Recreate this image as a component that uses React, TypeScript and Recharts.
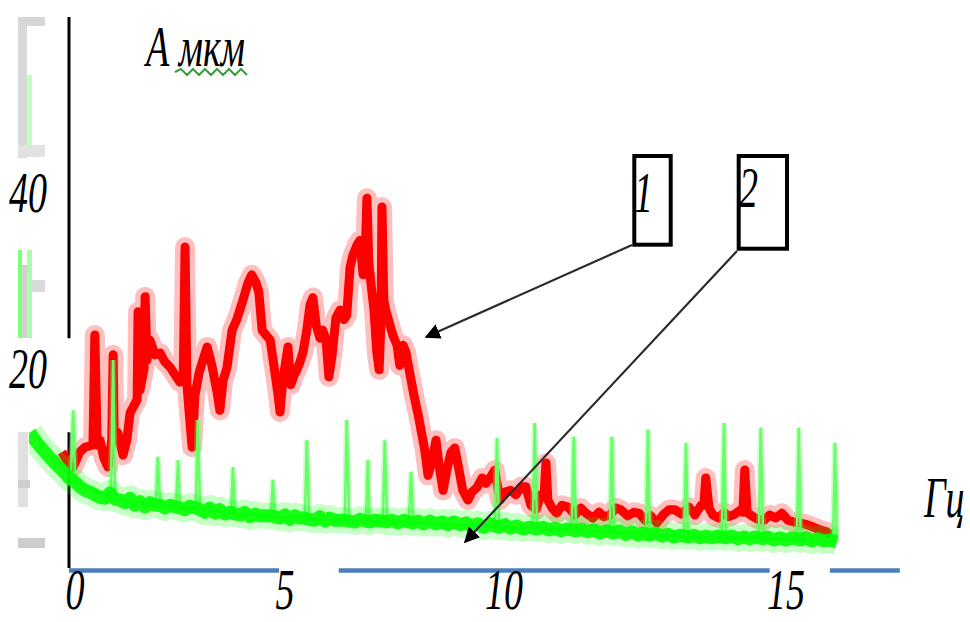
import React from "react";
import { LineChart, Line, XAxis, YAxis, ReferenceLine } from "recharts";

// amplitude (мкм) vs frequency (Гц)
const curve1: [number, number][] = [
  [-0.15, 10.45], [-0.02, 9.3], [0.09, 8.75], [0.23, 10.45], [0.34, 11.0], [0.51, 11.25],
  [0.55, 23.75], [0.6, 11.25], [0.66, 11.8], [0.74, 9.8], [0.83, 8.75], [0.91, 11.8],
  [0.94, 21.5], [0.96, 13.0], [1.04, 12.6], [1.15, 10.1], [1.23, 11.8], [1.3, 14.9],
  [1.45, 16.4], [1.47, 26.4], [1.51, 17.5], [1.6, 20.0], [1.62, 28.1], [1.66, 20.9],
  [1.72, 23.2], [1.83, 21.5], [1.94, 21.7], [2.04, 20.7], [2.15, 20.1], [2.26, 19.2],
  [2.36, 18.4], [2.43, 18.6], [2.47, 33.75], [2.51, 18.1], [2.57, 14.1], [2.62, 11.0],
  [2.68, 16.9], [2.77, 19.5], [2.85, 20.9], [2.94, 22.4], [3.04, 20.3], [3.15, 17.3],
  [3.21, 15.2], [3.28, 18.6], [3.36, 20.0], [3.47, 24.3], [3.57, 25.5], [3.7, 27.7],
  [3.81, 29.7], [3.89, 30.6], [3.98, 29.7], [4.04, 28.6], [4.11, 24.3], [4.19, 23.75],
  [4.28, 23.2], [4.36, 20.3], [4.45, 16.9], [4.49, 15.0], [4.55, 18.6], [4.66, 22.4],
  [4.72, 18.1], [4.79, 19.2], [4.85, 19.8], [4.91, 20.6], [4.98, 21.8], [5.06, 24.3],
  [5.13, 27.2], [5.19, 28.0], [5.26, 24.9], [5.34, 23.4], [5.4, 24.3], [5.47, 23.2],
  [5.53, 19.0], [5.6, 21.5], [5.68, 25.7], [5.77, 26.6], [5.85, 25.5], [5.91, 26.0],
  [5.98, 31.4], [6.04, 32.8], [6.13, 34.0], [6.19, 34.5], [6.26, 30.6], [6.3, 32.3],
  [6.34, 39.3], [6.38, 32.0], [6.43, 29.4], [6.49, 26.6], [6.55, 21.8], [6.6, 19.8],
  [6.64, 25.5], [6.66, 38.3], [6.7, 27.7], [6.74, 26.6], [6.83, 24.9], [6.89, 23.75],
  [6.98, 22.6], [7.04, 20.3], [7.11, 22.6], [7.17, 21.8], [7.26, 19.2], [7.34, 16.9],
  [7.43, 14.7], [7.51, 12.4], [7.57, 10.7], [7.64, 7.8], [7.72, 9.3], [7.81, 11.8],
  [7.89, 8.4], [7.96, 6.1], [8.04, 8.4], [8.13, 10.45], [8.21, 10.9], [8.3, 8.4],
  [8.38, 6.1], [8.49, 5.0], [8.57, 5.9], [8.68, 6.4], [8.79, 7.5], [8.87, 6.9],
  [8.98, 7.7], [9.06, 8.4], [9.17, 5.0], [9.28, 5.9], [9.4, 6.1], [9.51, 5.6],
  [9.62, 6.5], [9.72, 6.5], [9.83, 4.4], [9.94, 3.9], [10.04, 5.6], [10.11, 5.6],
  [10.15, 9.2], [10.19, 5.0], [10.28, 4.1], [10.38, 3.5], [10.49, 4.4], [10.62, 4.2],
  [10.77, 3.3], [10.89, 4.1], [11.0, 3.5], [11.15, 2.95], [11.28, 3.6], [11.38, 3.1],
  [11.51, 3.3], [11.64, 4.1], [11.74, 3.9], [11.89, 3.2], [12.02, 3.6], [12.13, 3.5],
  [12.26, 2.7], [12.38, 3.2], [12.51, 2.4], [12.64, 3.3], [12.77, 3.9], [12.89, 3.9],
  [13.04, 3.4], [13.19, 4.2], [13.32, 3.3], [13.45, 4.4], [13.51, 4.4], [13.55, 7.5],
  [13.62, 4.1], [13.7, 3.3], [13.83, 2.95], [13.94, 3.6], [14.04, 3.1], [14.17, 3.4],
  [14.3, 3.9], [14.34, 3.6], [14.38, 8.4], [14.43, 3.6], [14.53, 3.2], [14.66, 2.8],
  [14.79, 2.7], [14.91, 3.3], [15.04, 2.95], [15.17, 3.5], [15.3, 2.7], [15.43, 2.5],
  [15.55, 2.4], [15.7, 2.2], [15.85, 1.9], [15.98, 1.6], [16.11, 1.4], [16.23, 1.0],
];

// curve 2: the noisy floor
const curve2Band: [number, number][] = [
  [-0.83, 12.7], [-0.72, 11.8], [-0.62, 11.1], [-0.51, 10.45], [-0.4, 9.8], [-0.3, 9.2],
  [-0.19, 8.6], [-0.09, 8.1], [0, 7.5], [0.13, 7.05], [0.23, 6.5], [0.34, 6.1],
  [0.45, 5.9], [0.55, 5.6], [0.66, 5.3], [0.77, 5.2], [0.87, 5.8], [0.98, 5.1],
  [1.09, 5.0], [1.19, 4.7], [1.3, 5.2], [1.4, 4.4], [1.51, 4.8], [1.62, 4.2],
  [1.72, 4.7], [1.85, 4.4], [1.94, 4.4], [2.04, 4.1], [2.15, 4.4], [2.28, 4.2],
  [2.36, 4.1], [2.47, 3.9], [2.57, 4.3], [2.7, 4.1], [2.79, 3.9], [2.89, 3.6],
  [3.0, 4.1], [3.11, 3.5], [3.21, 3.9], [3.32, 3.4], [3.45, 3.6], [3.53, 3.4],
  [3.64, 3.3], [3.74, 3.6], [3.85, 3.1], [3.96, 3.4], [4.06, 3.2], [4.3, 3.2],
  [4.38, 3.1], [4.49, 2.95], [4.6, 3.3], [4.7, 2.8], [4.81, 3.2], [4.91, 2.95],
  [5.02, 2.95], [5.11, 2.8], [5.23, 2.7], [5.34, 3.1], [5.45, 2.6], [5.55, 2.95],
  [5.66, 2.7], [5.87, 2.7], [5.96, 2.6], [6.09, 2.5], [6.19, 2.8], [6.32, 2.6],
  [6.4, 2.5], [6.51, 2.7], [6.68, 2.6], [6.77, 2.5], [6.87, 2.7], [7.0, 2.4],
  [7.13, 2.7], [7.23, 2.5], [7.32, 2.4], [7.43, 2.6], [7.55, 2.3], [7.68, 2.6],
  [7.81, 2.3], [7.94, 2.5], [8.06, 2.2], [8.19, 2.5], [8.32, 2.2], [8.45, 2.4],
  [8.57, 2.05], [8.7, 2.3], [8.83, 1.9], [8.96, 2.3], [9.06, 2.05], [9.15, 1.9],
  [9.28, 2.2], [9.4, 1.8], [9.53, 2.05], [9.66, 1.7], [9.79, 1.9], [9.87, 1.8],
  [9.96, 1.7], [10.09, 1.9], [10.21, 1.6], [10.34, 1.8], [10.47, 1.5], [10.6, 1.7],
  [10.7, 1.6], [10.79, 1.5], [10.91, 1.7], [11.04, 1.4], [11.17, 1.6], [11.3, 1.25],
  [11.43, 1.5], [11.51, 1.4], [11.6, 1.25], [11.72, 1.5], [11.85, 1.1], [11.98, 1.4],
  [12.11, 1.0], [12.21, 1.25], [12.28, 1.1], [12.36, 1.0], [12.49, 1.25], [12.62, 0.9],
  [12.74, 1.1], [12.87, 0.8], [13.0, 1.0], [13.09, 0.9], [13.17, 0.8], [13.3, 1.0],
  [13.43, 0.7], [13.55, 0.9], [13.68, 0.7], [13.81, 0.9], [13.89, 0.8], [13.98, 0.7],
  [14.11, 0.9], [14.23, 0.6], [14.36, 0.8], [14.49, 0.6], [14.6, 0.8], [14.68, 0.7],
  [14.77, 0.6], [14.87, 0.8], [15.0, 0.45], [15.13, 0.7], [15.26, 0.45], [15.38, 0.7],
  [15.49, 0.6], [15.57, 0.45], [15.68, 0.7], [15.81, 0.35], [15.94, 0.6], [16.06, 0.35],
  [16.19, 0.45], [16.26, 0.35], [16.34, 0.25],
];

// narrow peaks sticking out of curve 2: [base before, top, base after]
const curve2Peaks: [number, number][] = [
  [0.04, 7.5], [0.09, 15.2], [0.13, 7.05],
  [0.89, 5.3], [0.94, 20.9], [0.98, 5.1],
  [1.85, 4.4], [1.89, 9.9], [1.94, 4.4],
  [2.28, 4.2], [2.32, 9.55], [2.36, 4.1],
  [2.7, 4.1], [2.74, 14.1], [2.79, 3.9],
  [3.45, 3.6], [3.49, 8.75], [3.53, 3.4],
  [4.3, 3.2], [4.34, 7.3], [4.38, 3.1],
  [5.02, 2.95], [5.06, 11.8], [5.11, 2.8],
  [5.87, 2.7], [5.91, 14.1], [5.96, 2.6],
  [6.32, 2.6], [6.36, 9.55], [6.4, 2.5],
  [6.68, 2.6], [6.72, 11.8], [6.77, 2.5],
  [7.23, 2.5], [7.28, 8.2], [7.32, 2.4],
  [9.06, 2.05], [9.11, 12.05], [9.15, 1.9],
  [9.87, 1.8], [9.91, 13.75], [9.96, 1.7],
  [10.7, 1.6], [10.74, 12.2], [10.79, 1.5],
  [11.51, 1.4], [11.55, 12.2], [11.6, 1.25],
  [12.28, 1.1], [12.32, 13.0], [12.36, 1.0],
  [13.09, 0.9], [13.13, 11.5], [13.17, 0.8],
  [13.89, 0.8], [13.94, 13.75], [13.98, 0.7],
  [14.68, 0.7], [14.72, 13.2], [14.77, 0.6],
  [15.49, 0.6], [15.53, 13.2], [15.57, 0.45],
  [16.26, 0.35], [16.3, 11.5], [16.34, 0.25],
];

const xTicks = [0, 5, 10, 15];
const yTicks = [20, 40];
// the printed x labels sit a little off the even spacing
const xLabelShift: Record<number, number> = { 0: 6, 5: -19, 10: -35, 15: 12 };

const toRows = (pts: [number, number][]) => pts.map(([f, a]) => ({ f, a }));
const red = toRows(curve1);
const greenBand = toRows(curve2Band);
const greenPeaks = toRows(curve2Peaks);

const SERIF = "'Liberation Serif', 'Times New Roman', serif";

function ItalicText({ x, y, children, anchor = "start" }: any) {
  return (
    <text
      transform={`translate(${x} ${y}) scale(1 1.5)`}
      fontFamily={SERIF}
      fontStyle="italic"
      fontSize={38}
      fill="#000"
      textAnchor={anchor}
    >
      {children}
    </text>
  );
}

function XTick(props: any) {
  const { x, payload } = props;
  const v = payload.value;
  return (
    <ItalicText x={x + (xLabelShift[v] ?? 0)} y={609} anchor="middle">
      {v}
    </ItalicText>
  );
}

function YTick(props: any) {
  const { y, payload } = props;
  return (
    <ItalicText x={28} y={y + 20} anchor="middle">
      {payload.value}
    </ItalicText>
  );
}

function squiggle(x0: number, x1: number, y: number) {
  let d = `M${x0},${y}`;
  let up = true;
  for (let x = x0 + 6; x <= x1; x += 6) {
    d += ` L${x},${up ? y - 3 : y + 3}`;
    up = !up;
  }
  return d;
}

function Overlay() {
  return (
    <svg
      width={970}
      height={622}
      style={{ position: "absolute", left: 0, top: 0, pointerEvents: "none" }}
    >
      <defs>
        <marker id="arr" viewBox="0 0 10 10" refX="9" refY="5" markerWidth="7" markerHeight="7" orient="auto">
          <path d="M0,0 L10,5 L0,10 z" fill="#000" />
        </marker>
      </defs>

      {/* scraps of a neighbouring frame on the left edge */}
      <rect x={18} y={17} width={27} height={9} fill="#d6d6d6" />
      <rect x={18} y={26} width={9} height={132} fill="#cfcfcf" opacity={0.8} />
      <rect x={27} y={75} width={5} height={72} fill="#bfffbf" />
      <rect x={18} y={145} width={27} height={12} fill="#e2e2e2" />
      <rect x={18} y={250} width={4} height={88} fill="#7fff7f" />
      <rect x={22} y={265} width={5} height={73} fill="#bdbdbd" opacity={0.7} />
      <rect x={27} y={250} width={5} height={88} fill="#a8ffa8" />
      <rect x={32} y={280} width={13} height={12} fill="#dadada" />
      <rect x={18} y={432} width={10} height={75} fill="#e0e0e0" />
      <rect x={18} y={480} width={12} height={8} fill="#cfcfcf" />
      <rect x={18} y={538} width={27} height={10} fill="#cdcdcd" />

      <ItalicText x={146} y={66}>А мкм</ItalicText>
      <path d={squiggle(175, 249, 72)} stroke="#3b9c3b" strokeWidth={2} fill="none" />
      <ItalicText x={924} y={517}>Гц</ItalicText>

      <rect x={634.3} y={156} width={36.4} height={88.7} fill="none" stroke="#000" strokeWidth={4} />
      <ItalicText x={634} y={212}>1</ItalicText>
      <rect x={738.7} y={156} width={48.3} height={92.7} fill="none" stroke="#000" strokeWidth={4} />
      <ItalicText x={739} y={207}>2</ItalicText>

      <line x1={632} y1={245} x2={426} y2={337} stroke="#2a2a2a" strokeWidth={2.2} markerEnd="url(#arr)" />
      <line x1={737} y1={251} x2={465} y2={542} stroke="#2a2a2a" strokeWidth={2.2} markerEnd="url(#arr)" />
    </svg>
  );
}

export default function App() {
  return (
    <div style={{ position: "absolute", left: 0, top: 0, width: 970, height: 622, background: "#fff" }}>
      <LineChart width={970} height={622} margin={{ top: 17, right: 65, bottom: 0, left: 0 }}>
        <XAxis
          type="number"
          dataKey="f"
          domain={[-0.851, 17.79]}
          allowDataOverflow
          ticks={xTicks}
          interval={0}
          axisLine={false}
          tickLine={false}
          height={48}
          tick={<XTick />}
        />
        <YAxis
          type="number"
          domain={[-3.41, 59.9]}
          allowDataOverflow
          ticks={yTicks}
          interval={0}
          axisLine={false}
          tickLine={false}
          width={29}
          tick={<YTick />}
        />
        {/* vertical axis, broken around the "20" label */}
        <ReferenceLine segment={[{ x: 0, y: 23.4 }, { x: 0, y: 59.9 }]} stroke="#000" strokeWidth={3} ifOverflow="visible" />
        <ReferenceLine segment={[{ x: 0, y: -2.73 }, { x: 0, y: 12.7 }]} stroke="#000" strokeWidth={3} ifOverflow="visible" />
        {/* horizontal axis in three blue pieces */}
        <ReferenceLine segment={[{ x: 0, y: -3.0 }, { x: 4.47, y: -3.0 }]} stroke="#4a7ebb" strokeWidth={4.5} ifOverflow="visible" />
        <ReferenceLine segment={[{ x: 5.74, y: -3.0 }, { x: 14.91, y: -3.0 }]} stroke="#4a7ebb" strokeWidth={4.5} ifOverflow="visible" />
        <ReferenceLine segment={[{ x: 16.19, y: -3.0 }, { x: 17.68, y: -3.0 }]} stroke="#4a7ebb" strokeWidth={4.5} ifOverflow="visible" />

        <Line data={red} dataKey="a" type="linear" dot={false} stroke="#ff0000" strokeWidth={20} strokeOpacity={0.25} strokeLinejoin="round" isAnimationActive={false} />
        <Line data={red} dataKey="a" type="linear" dot={false} stroke="#ff0000" strokeWidth={9} strokeLinejoin="round" isAnimationActive={false} />
        <Line data={greenPeaks} dataKey="a" type="linear" dot={false} stroke="#66ff66" strokeWidth={6} strokeOpacity={0.35} isAnimationActive={false} />
        <Line data={greenPeaks} dataKey="a" type="linear" dot={false} stroke="#66ff66" strokeWidth={2.5} isAnimationActive={false} />
        <Line data={greenBand} dataKey="a" type="linear" dot={false} stroke="#00ff00" strokeWidth={26} strokeOpacity={0.22} strokeLinejoin="round" isAnimationActive={false} />
        <Line data={greenBand} dataKey="a" type="linear" dot={false} stroke="#00ff00" strokeWidth={13} strokeOpacity={0.9} strokeLinejoin="round" isAnimationActive={false} />
      </LineChart>
      <Overlay />
    </div>
  );
}
